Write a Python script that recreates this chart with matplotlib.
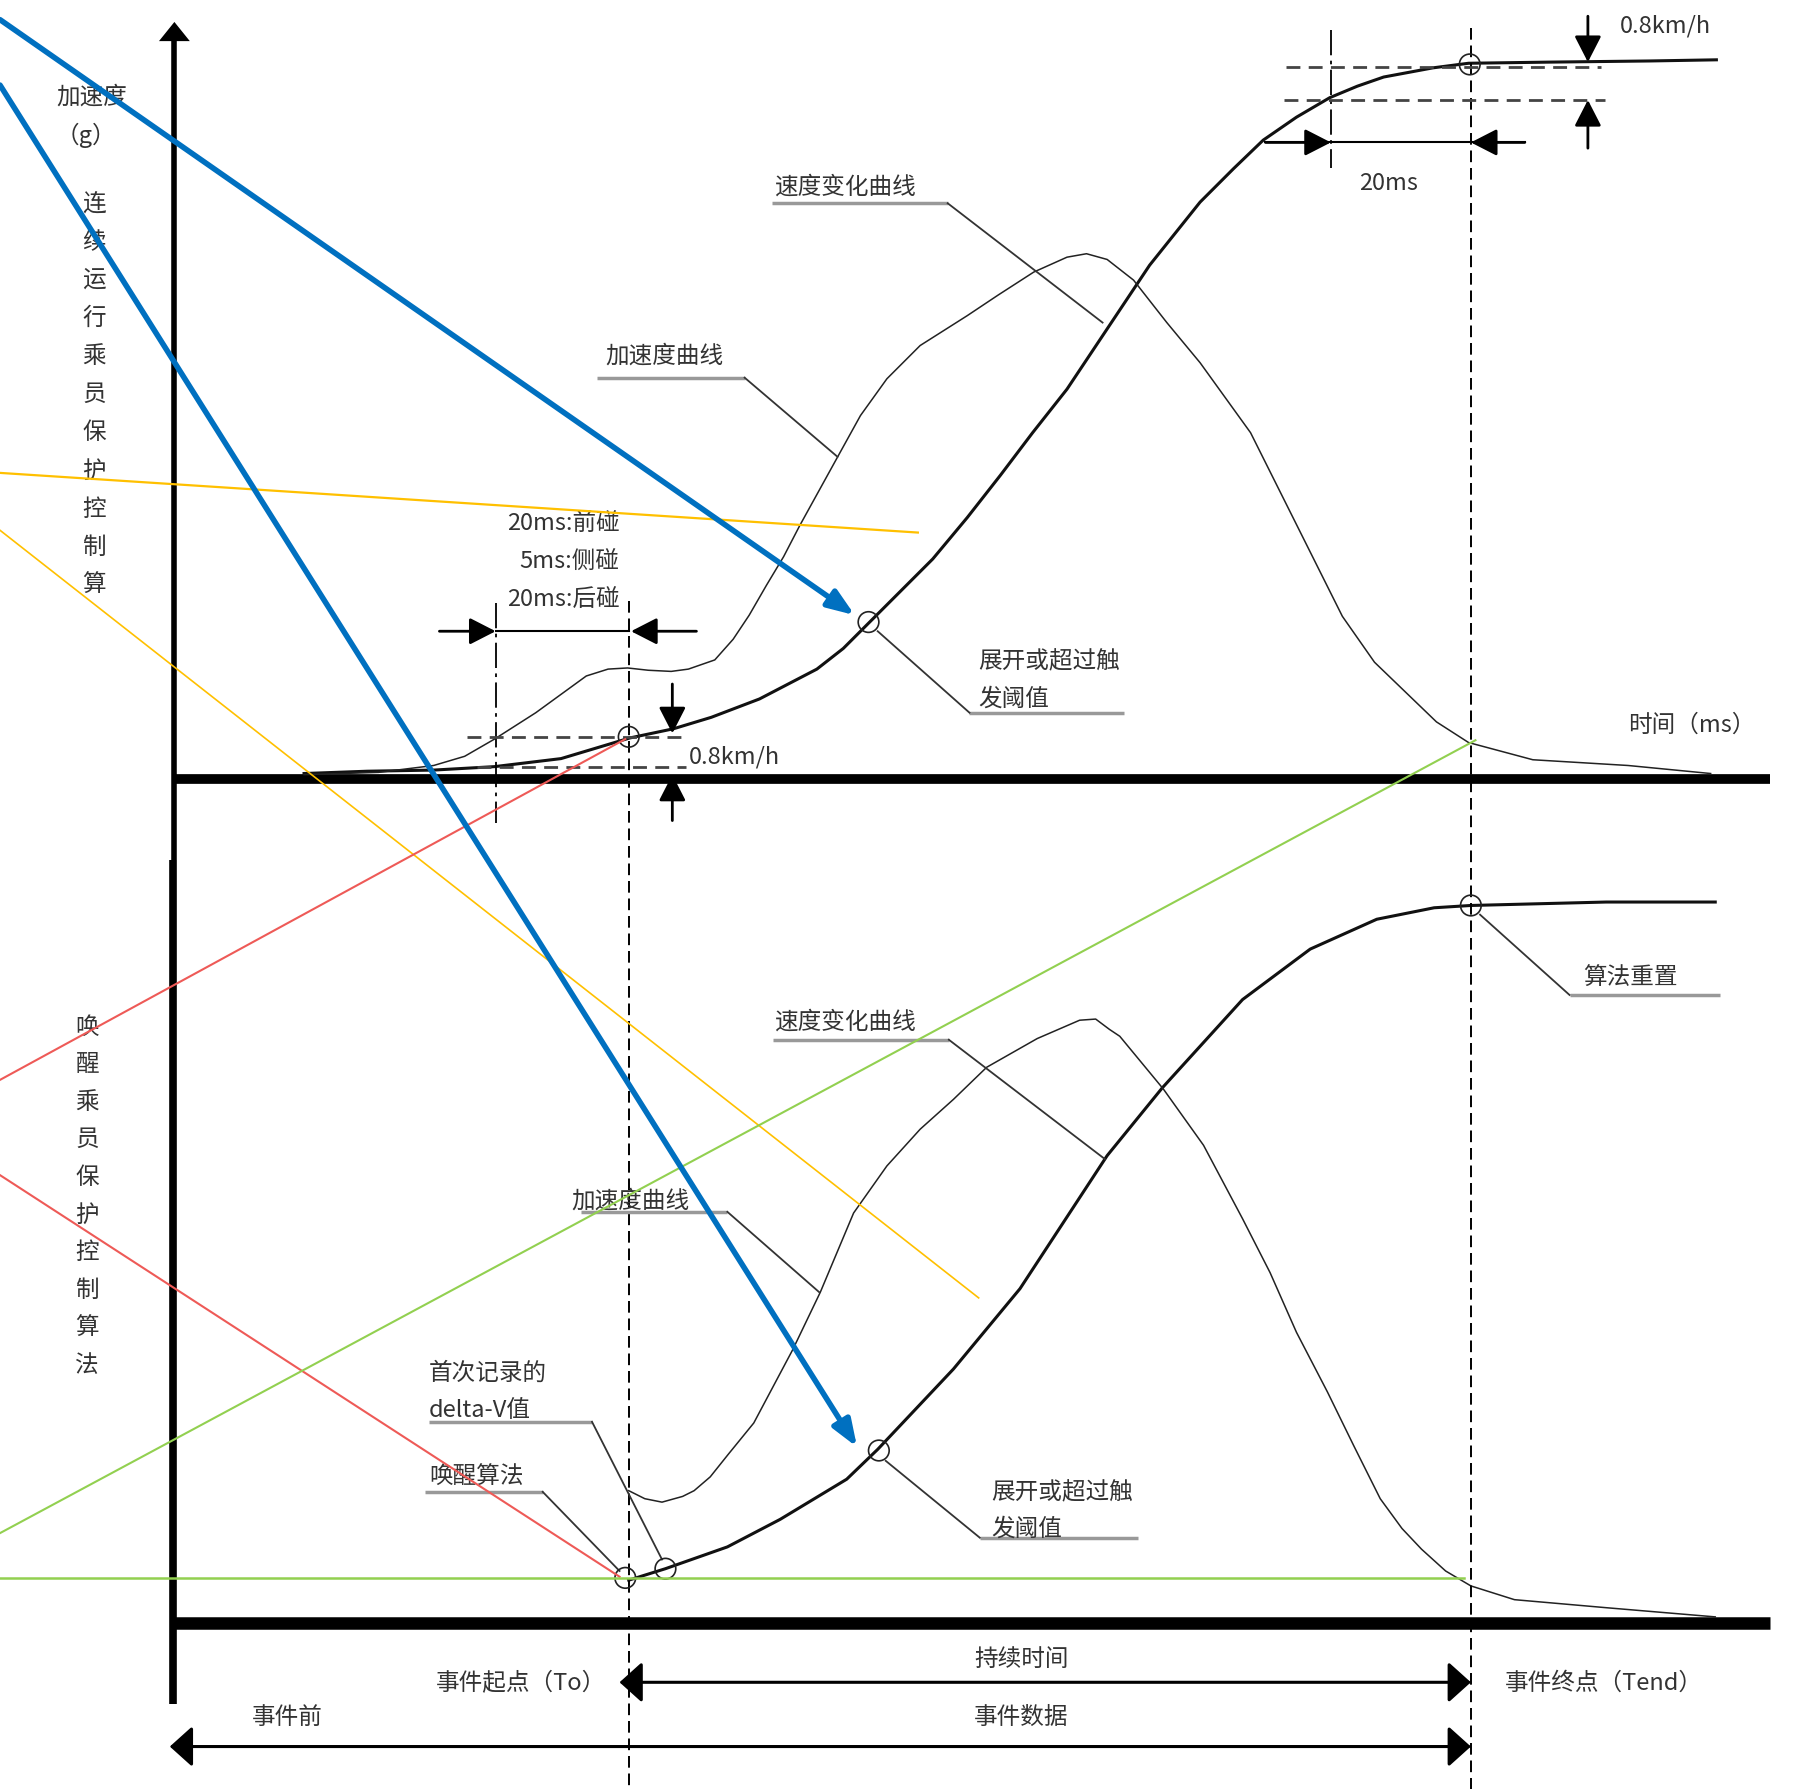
import matplotlib

matplotlib.use("Agg")
import matplotlib.pyplot as plt
from matplotlib.patches import Circle

plt.rcParams['font.family'] = ['Noto Sans CJK SC', 'DejaVu Sans']

# drawing coordinates follow the reference picture (x right, y down)
W, H = 1568, 1560

# upper panel: continuous algorithm
upper_vel_x = [265, 320, 378, 431, 489, 549, 587, 620, 662, 712, 735, 755, 785, 813, 843, 872,
               900, 930, 960, 988, 1002, 1046, 1075, 1101, 1130, 1159, 1183, 1206, 1249, 1280,
               1351, 1438, 1496]
upper_vel_y = [675, 673, 672, 669, 662, 644, 636, 626, 610, 584, 566, 546, 516, 488, 452, 415,
               378, 340, 295, 253, 232, 177, 148, 123, 103, 86, 76, 68, 60, 56,
               55, 54, 53]
upper_acc_x = [265, 330, 378, 405, 431, 467, 511, 530, 547, 565, 585, 600, 623, 639, 653, 668,
               683, 697, 713, 729, 750, 773, 802, 843, 870, 901, 930, 947, 965, 988, 1017, 1046,
               1090, 1119, 1145, 1170, 1198, 1225, 1252, 1280, 1336, 1419, 1491]
upper_acc_y = [676, 674, 668, 660, 645, 622, 590, 584, 583, 585, 586, 584, 576, 558, 537, 511,
               486, 459, 430, 401, 363, 331, 302, 276, 258, 238, 225, 222, 227, 245, 282, 317,
               378, 436, 488, 538, 578, 604, 630, 648, 663, 668, 675]

# lower panel: wake-up algorithm
lower_vel_x = [548, 580, 634, 680, 738, 765, 831, 889, 965, 1013, 1083, 1142, 1200, 1250, 1282,
               1400, 1495]
lower_vel_y = [1378, 1368, 1349, 1325, 1290, 1264, 1194, 1124, 1008, 949, 872, 828, 802, 792, 790,
               787, 787]
lower_acc_x = [548, 562, 577, 595, 605, 619, 635, 657, 691, 715, 744, 773, 802, 831, 860, 904,
               941, 955, 967, 976, 1014, 1049, 1083, 1107, 1130, 1157, 1180, 1203, 1222, 1239,
               1260, 1282, 1320, 1400, 1495]
lower_acc_y = [1300, 1307, 1310, 1305, 1300, 1288, 1268, 1241, 1177, 1127, 1058, 1017, 985, 959,
               931, 906, 890, 889, 898, 904, 950, 999, 1063, 1110, 1162, 1214, 1261, 1307, 1333,
               1351, 1370, 1383, 1395, 1402, 1410]

# marked points (circles)
mark_x = [548, 757, 1281, 545, 580, 766, 1282]
mark_y = [643, 543, 57, 1376, 1368, 1265, 790]

# vertical side labels
upper_side = list("连续运行乘员保护控制算")
lower_side = list("唤醒乘员保护控制算法")

# callouts: text lines, text x, first line y, underline (x0, x1, y), leader end
callouts = [
    (["速度变化曲线"], 675, 163, (673, 826, 178), (961, 282)),
    (["加速度曲线"], 528, 310, (520, 649, 330), (730, 399)),
    (["展开或超过触", "发阈值"], 853, 577, (845, 980, 622), (765, 551)),
    (["算法重置"], 1380, 853, (1368, 1499, 868), (1290, 798)),
    (["速度变化曲线"], 675, 891, (674, 827, 907), (963, 1011)),
    (["加速度曲线"], 498, 1047, (506, 634, 1057), (714, 1127)),
    (["首次记录的", "delta-V值"], 374, 1197, (374, 516, 1240), (577, 1360)),
    (["唤醒算法"], 374, 1288, (370, 473, 1301), (540, 1370)),
    (["展开或超过触", "发阈值"], 864, 1301, (854, 992, 1341), (772, 1274)),
]

# overlay lines drawn on the original picture: (x0, y0, x1, y1, colour, width, arrow)
overlays = [
    (0, 413, 800, 465, '#FFC000', 1.6, False),
    (0, 463, 853, 1132, '#FFC000', 1.2, False),
    (0, 942, 545, 645, '#EE5A57', 1.5, False),
    (0, 1025, 540, 1375, '#EE5A57', 1.5, False),
    (0, 1337, 1286, 646, '#92D050', 1.5, False),
    (0, 1376, 1276, 1376, '#92D050', 1.8, False),
    (0, 18, 745, 537, '#0070C0', 4.0, True),
    (0, 75, 747, 1262, '#0070C0', 4.0, True),
]

TXT = '#333333'
FS = 17

fig = plt.figure(figsize=(17.99, 17.90), dpi=100)
ax = fig.add_axes([0, 0, 1, 1])
ax.set_xlim(0, W)
ax.set_ylim(H, 0)
ax.axis('off')


def arrow(x0, y0, x1, y1, style='-|>', lw=2.0, scale=20, hl=0.8, hw=0.41, color='k', z=5):
    ax.annotate('', xy=(x1, y1), xytext=(x0, y0),
                arrowprops=dict(arrowstyle=f'{style},head_length={hl},head_width={hw}',
                                mutation_scale=scale, lw=lw, color=color,
                                shrinkA=0, shrinkB=0), zorder=z)


# axes
ax.plot([152, 152], [30, 750], color='k', lw=4, solid_capstyle='butt')
ax.plot([151, 151], [750, 1486], color='k', lw=5.5, solid_capstyle='butt')
arrow(152, 45, 152, 20, lw=0, scale=30, hl=0.46, hw=0.37)
ax.plot([152, 1543], [680, 680], color='k', lw=7, solid_capstyle='butt')
ax.plot([152, 1543], [1415, 1415], color='k', lw=9, solid_capstyle='butt')

# curves
ax.plot(upper_vel_x, upper_vel_y, color='#111111', lw=2.2, solid_joinstyle='round')
ax.plot(upper_acc_x, upper_acc_y, color='#222222', lw=1.1, solid_joinstyle='round')
ax.plot(lower_vel_x, lower_vel_y, color='#111111', lw=2.2, solid_joinstyle='round')
ax.plot(lower_acc_x, lower_acc_y, color='#222222', lw=1.1, solid_joinstyle='round')

for x, y in zip(mark_x, mark_y):
    ax.add_patch(Circle((x, y), 9, fill=False, ec='#222222', lw=1.2, zorder=4))

# event start / end lines
dash = (0, (6, 3))
ax.plot([548, 548], [525, 1560], color='k', lw=1.4, ls=dash)
ax.plot([1282, 1282], [25, 1560], color='k', lw=1.4, ls=dash)

# dimension lines, lower left of the upper panel
dashdot = (0, (14, 3, 2, 3))
ax.plot([432, 432], [526, 718], color='k', lw=1.3, ls=dashdot)
ax.plot([407, 598], [643, 643], color='#444444', lw=2.0, ls=(0, (5, 3)))
ax.plot([416, 598], [669, 669], color='#444444', lw=2.0, ls=(0, (5, 3)))
ax.plot([432, 548], [551, 551], color='k', lw=1.5)
arrow(383, 551, 432, 551)
arrow(607, 551, 550, 551)
arrow(586, 597, 586, 640)
arrow(586, 716, 586, 676)

# dimension lines, top right
ax.plot([1160, 1160], [27, 147], color='k', lw=1.3, ls=dashdot)
ax.plot([1121, 1395], [59, 59], color='#444444', lw=2.0, ls=(0, (5, 3)))
ax.plot([1119, 1399], [88, 88], color='#444444', lw=2.0, ls=(0, (5, 3)))
ax.plot([1103, 1329], [125, 125], color='k', lw=1.5)
arrow(1103, 125, 1160, 125)
arrow(1329, 125, 1282, 125)
arrow(1384, 15, 1384, 55)
arrow(1384, 130, 1384, 88)

# bottom range arrows
arrow(540, 1467, 1282, 1467, style='<|-|>', lw=2.2, scale=28, hl=0.5, hw=0.45)
arrow(148, 1523, 1282, 1523, style='<|-|>', lw=2.2, scale=28, hl=0.5, hw=0.45)

# callouts
for lines, tx, ty, (u0, u1, uy), (lx, ly) in callouts:
    for i, s in enumerate(lines):
        ax.text(tx, ty + 32 * i, s, fontsize=FS, color=TXT, ha='left', va='center')
    ax.plot([u0, u1], [uy, uy], color='#999999', lw=2.5, solid_capstyle='butt')
    ax.plot([u1 if lx > u1 else u0, lx], [uy, ly], color='#333333', lw=1.3)

# side labels
ax.text(80, 85, "加速度", fontsize=FS, color=TXT, ha='center', va='center')
ax.text(75, 118, "（g）", fontsize=FS, color=TXT, ha='center', va='center')
for i, ch in enumerate(upper_side):
    ax.text(82, 178 + 33.2 * i, ch, fontsize=FS, color=TXT, ha='center', va='center')
for i, ch in enumerate(lower_side):
    ax.text(76, 895 + 32.8 * i, ch, fontsize=FS, color=TXT, ha='center', va='center')

# other texts
ax.text(540, 456, "20ms:前碰", fontsize=FS, color=TXT, ha='right', va='center')
ax.text(540, 490, "5ms:侧碰", fontsize=FS, color=TXT, ha='right', va='center')
ax.text(540, 523, "20ms:后碰", fontsize=FS, color=TXT, ha='right', va='center')
ax.text(600, 660, "0.8km/h", fontsize=FS, color=TXT, ha='left', va='center')
ax.text(1412, 23, "0.8km/h", fontsize=FS, color=TXT, ha='left', va='center')
ax.text(1210, 160, "20ms", fontsize=FS, color=TXT, ha='center', va='center')
ax.text(1419, 632, "时间（ms）", fontsize=FS, color=TXT, ha='left', va='center')
ax.text(528, 1467, "事件起点（To）", fontsize=FS, color=TXT, ha='right', va='center')
ax.text(1312, 1467, "事件终点（Tend）", fontsize=FS, color=TXT, ha='left', va='center')
ax.text(890, 1446, "持续时间", fontsize=FS, color=TXT, ha='center', va='center')
ax.text(250, 1497, "事件前", fontsize=FS, color=TXT, ha='center', va='center')
ax.text(890, 1497, "事件数据", fontsize=FS, color=TXT, ha='center', va='center')

# coloured overlay lines
for x0, y0, x1, y1, c, w, head in overlays:
    if head:
        arrow(x0, y0, x1, y1, lw=w, scale=10, hl=1.6, hw=0.6, color=c, z=8)
    else:
        ax.plot([x0, x1], [y0, y1], color=c, lw=w, zorder=7)

fig.savefig("out.png", dpi=100)
